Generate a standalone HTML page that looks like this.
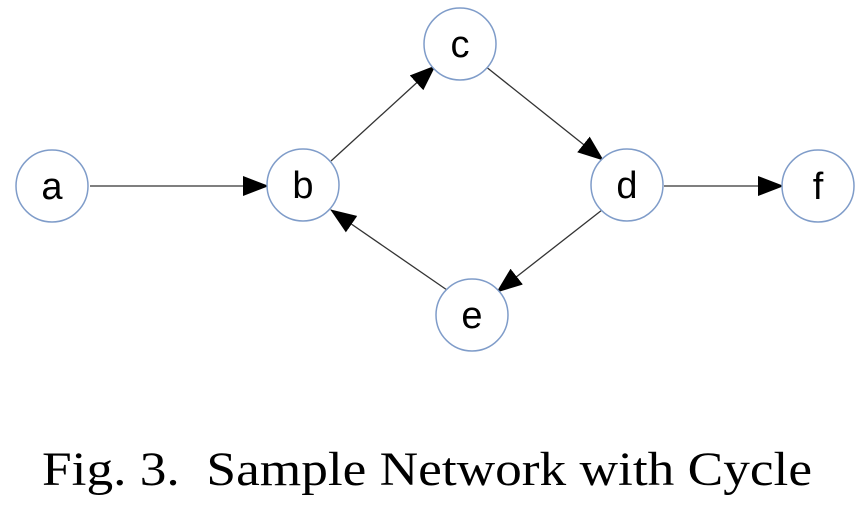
<!DOCTYPE html>
<html><head><style>body{margin:0;background:#fff;width:863px;height:505px;overflow:hidden}</style></head><body>
<svg width="863" height="505" xmlns="http://www.w3.org/2000/svg">
<defs><marker id="ar" markerWidth="26" markerHeight="20" refX="25" refY="10" orient="auto" markerUnits="userSpaceOnUse"><path d="M0,0 L26,10 L0,20 z" fill="#000"/></marker></defs>
<g stroke="#333" stroke-width="1.3" fill="none">
<line x1="90" y1="186" x2="268" y2="186" marker-end="url(#ar)"/>
<line x1="331" y1="161" x2="435" y2="66" marker-end="url(#ar)"/>
<line x1="485" y1="66" x2="603" y2="160" marker-end="url(#ar)"/>
<line x1="602" y1="210" x2="497" y2="292" marker-end="url(#ar)"/>
<line x1="447" y1="290" x2="331" y2="210" marker-end="url(#ar)"/>
<line x1="664" y1="186" x2="783" y2="186" marker-end="url(#ar)"/>
</g>
<g stroke="#7f9cc9" stroke-width="1.5" fill="#fff">
<circle cx="52" cy="186" r="36"/><circle cx="303" cy="185" r="36"/><circle cx="460" cy="44" r="36"/>
<circle cx="627" cy="185" r="36"/><circle cx="472" cy="315" r="36"/><circle cx="818" cy="186" r="36"/>
</g>
<g font-family="Liberation Sans, sans-serif" font-size="38" text-anchor="middle" fill="#000">
<text x="52" y="199">a</text><text x="303" y="198">b</text><text x="460" y="57">c</text>
<text x="627" y="198">d</text><text x="472" y="328">e</text><text x="818" y="199">f</text>
</g>
<text x="42" y="485" font-family="Liberation Serif, serif" font-size="48" fill="#000" textLength="770" lengthAdjust="spacingAndGlyphs" xml:space="preserve">Fig. 3.  Sample Network with Cycle</text>
</svg>
</body></html>
